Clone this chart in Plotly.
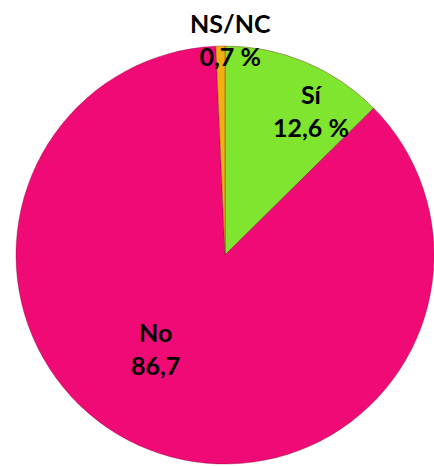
import plotly.graph_objects as go

categories = ["Sí", "No", "NS/NC"]
values = [12.6, 86.7, 0.7]
value_labels = ["12,6 %", "86,7", "0,7 %"]
colors = ["#7FE52E", "#EF0A75", "#F0B010"]

W, H = 434, 466
left, top = 16, 44  # pie bounding box offsets (px)

fig = go.Figure(go.Pie(
    labels=categories,
    values=values,
    sort=False,
    direction="clockwise",
    rotation=0,
    marker=dict(colors=colors, line=dict(color="rgba(120,0,40,0.35)", width=1)),
    textinfo="none",
    hoverinfo="label+value",
    showlegend=False,
    domain=dict(x=[left / W, 1], y=[0, 1 - top / H]),
))

label_pos = {"Sí": (311, 110), "No": (155, 348), "NS/NC": (230, 39)}
for cat, lab in zip(categories, value_labels):
    x, y = label_pos[cat]
    fig.add_annotation(
        x=x / W, y=1 - y / H, xref="paper", yref="paper",
        text=f"{cat}<br>{lab}", showarrow=False,
        font=dict(family="Lato, 'DejaVu Sans', sans-serif", size=25, color="black", weight="bold"),
        xanchor="center", yanchor="middle", align="center",
    )

fig.update_layout(
    width=W, height=H,
    margin=dict(l=0, r=0, t=0, b=0),
    paper_bgcolor="white", plot_bgcolor="white",
)
fig.write_html(
    "out.html",
    config={"displayModeBar": False},
    post_script="document.body.style.margin='0';document.documentElement.style.overflow='hidden';",
)
